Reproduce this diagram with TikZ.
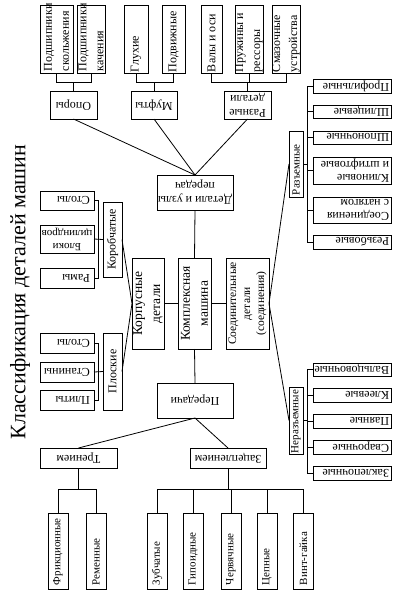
\documentclass[tikz,border=0pt]{standalone}
\usepackage{fontspec}
\setmainfont{Liberation Serif}
\usepackage{graphicx}
\newcommand{\TxtUp}[2]{\rotatebox{90}{\parbox{#1}{\raggedright #2}}}
\newcommand{\TxtUpC}[2]{\rotatebox{90}{\parbox{#1}{\centering #2}}}
\newcommand{\TxtDn}[2]{\rotatebox{180}{\parbox{#1}{\raggedright #2}}}
\newcommand{\TxtDnC}[2]{\rotatebox{180}{\parbox{#1}{\centering #2}}}
\begin{document}
\begin{tikzpicture}[x=1pt,y=-1pt,line width=0.8pt,
  box/.style 2 args={draw,line width=0.8pt,inner sep=0pt,outer sep=0pt,minimum width=#1pt,minimum height=#2pt},
  leaf/.style={font=\fontsize{12}{17}\selectfont},
  bleaf/.style={font=\fontsize{11}{13}\selectfont},
  sleaf/.style={font=\fontsize{12}{13}\selectfont},
  vleaf/.style={font=\fontsize{11}{13}\selectfont},
  mid/.style={font=\fontsize{12}{14}\selectfont},
  big/.style={font=\fontsize{13.5}{18}\selectfont}]
\fill[white] (0,0) rectangle (401,595);
\useasboundingbox (0,0) rectangle (401,595);
% title
\node[rotate=90,inner sep=0pt,font=\fontsize{22}{26}\selectfont] (title) at (20,292) {Классификация деталей машин};
% top leaves
\node[box={33}{68},leaf] (A1) at (56.5,39) {\TxtUp{64pt}{Подшипники\\скольжения}};
\node[box={28}{68},leaf] (A2) at (91,39) {\TxtUp{64pt}{Подшипники\\качения}};
\node[box={24}{68},leaf] (B1) at (136,39) {\TxtUp{66pt}{Глухие}};
\node[box={23}{68},leaf] (B2) at (173.5,39) {\TxtUp{66pt}{Подвижные}};
\node[box={21}{68},leaf] (C1) at (211.5,39) {\TxtUp{66pt}{Валы и оси}};
\node[box={28}{68},leaf] (C2) at (249,39) {\TxtUp{66pt}{Пружины и\\рессоры}};
\node[box={28}{68},leaf] (C3) at (286,39) {\TxtUp{66pt}{Смазочные\\устройства}};
% second level top
\node[box={47}{28},mid] (Opory) at (73.5,105) {\TxtDnC{45pt}{Опоры}};
\node[box={46}{28},mid] (Mufty) at (154,105) {\TxtDnC{44pt}{Муфты}};
\node[box={47}{28},mid] (Raznye) at (247.5,105) {\TxtDnC{45pt}{Разные\\детали}};
\node[box={76}{35},mid] (Detali) at (195,192.5) {\TxtDnC{74pt}{Детали и узлы\\передач}};
% centre
\node[box={32}{91},big] (Korpus) at (148,303.5) {\TxtUpC{85pt}{Корпусные\\детали}};
\node[box={33}{91},big] (Kompl) at (194.5,303.5) {\TxtUpC{85pt}{Комплексная\\машина}};
\node[box={43}{91},font=\fontsize{11.5}{14}\selectfont] (Soedin) at (247.5,303.5) {\TxtUpC{85pt}{Соединительные\\детали\\(соединения)}};
\node[box={76}{35},mid] (Pered) at (195,400.5) {\TxtDnC{74pt}{Передачи}};
\node[box={77}{20},mid] (Tren) at (78.5,458) {\TxtDnC{75pt}{Трением}};
\node[box={76}{20},mid] (Zacep) at (228,458) {\TxtDnC{74pt}{Зацеплением}};
% bottom leaves
\node[box={20}{76},bleaf] (Frik) at (58,551) {\TxtUp{68pt}{Фрикционные}};
\node[box={20}{76},bleaf] (Remen) at (96,551) {\TxtUp{68pt}{Ременные}};
\node[box={20}{76},bleaf] (Zub) at (157,551) {\TxtUp{68pt}{Зубчатые}};
\node[box={20}{76},bleaf] (Gipo) at (193,551) {\TxtUp{68pt}{Гипоидные}};
\node[box={20}{76},bleaf] (Cherv) at (231,551) {\TxtUp{68pt}{Червячные}};
\node[box={20}{76},bleaf] (Cep) at (267,551) {\TxtUp{68pt}{Цепные}};
\node[box={20}{76},bleaf] (Vint) at (303.5,551) {\TxtUp{68pt}{Винт-гайка}};
% left side
\node[box={19}{75},sleaf] (Korob) at (112.5,239.5) {\TxtUpC{73pt}{Коробчатые}};
\node[box={19}{77},sleaf] (Plosk) at (112.5,371.5) {\TxtUpC{75pt}{Плоские}};
\node[box={54}{19},sleaf] (StolyA) at (67,200.5) {\TxtDn{46pt}{Столы}};
\node[box={54}{28},vleaf] (Bloki) at (67,239) {\TxtDnC{54pt}{Блоки\\цилиндров}};
\node[box={54}{20},sleaf] (Ramy) at (67,278) {\TxtDn{46pt}{Рамы}};
\node[box={54}{20},sleaf] (StolyB) at (67,343) {\TxtDn{46pt}{Столы}};
\node[box={54}{20},sleaf] (Stan) at (67,372) {\TxtDn{46pt}{Станины}};
\node[box={54}{20},sleaf] (Plity) at (67,400) {\TxtDn{46pt}{Плиты}};
% right side
\node[box={14}{66},vleaf] (Razem) at (296,164) {\TxtUp{62pt}{Разъемные}};
\node[box={14}{67},vleaf] (Nerazem) at (296,420.5) {\TxtUp{65pt}{Неразъемные}};
\node[box={78}{14},sleaf] (Prof) at (352,86) {\TxtDn{74pt}{Профильные}};
\node[box={78}{13},sleaf] (Shlic) at (352,111.5) {\TxtDn{74pt}{Шлицевые}};
\node[box={78}{13},sleaf] (Shpon) at (352,137.5) {\TxtDn{74pt}{Шпоночные}};
\node[box={78}{27},sleaf] (Klin) at (352,170.5) {\TxtDn{74pt}{Клиновые\\и штифтовые}};
\node[box={78}{26},sleaf] (Natyag) at (352,210) {\TxtDn{74pt}{Соединения\\с натягом}};
\node[box={78}{14},sleaf] (Rezb) at (352,242) {\TxtDn{74pt}{Резьбовые}};
\node[box={78}{13},sleaf] (Valc) at (352,369.5) {\TxtDn{74pt}{Вальцовочные}};
\node[box={78}{14},sleaf] (Kleev) at (352,395) {\TxtDn{74pt}{Клеевые}};
\node[box={78}{14},sleaf] (Payan) at (352,421) {\TxtDn{74pt}{Паяные}};
\node[box={78}{14},sleaf] (Svar) at (352,447) {\TxtDn{74pt}{Сварочные}};
\node[box={78}{14},sleaf] (Zakl) at (352,473) {\TxtDn{74pt}{Заклепочные}};
% connectors top
\draw (A1.south) -- ++(0,9) -| (A2.south);
\draw (Opory.north) -- ++(0,-9);
\draw (B1.south) -- ++(0,9) -| (B2.south);
\draw (Mufty.north) -- ++(0,-9);
\draw (C1.south) -- ++(0,9) -| (C3.south);
\draw (C2.south) -- ++(0,9);
\draw (Raznye.north) -- ++(0,-9);
\draw (Opory.south) -- (Detali.north);
\draw (Mufty.south) -- (Detali.north);
\draw (Raznye.south) -- (Detali.north);
\draw (Detali.south) -- (Kompl.north);
\draw (Korpus.east) -- (Kompl.west);
\draw (Kompl.east) -- (Soedin.west);
\draw (Kompl.south) -- (Pered.north);
\draw (Pered.south) -- (Tren.north);
\draw (Pered.south) -- (Zacep.north);
% bottom
\draw (Tren.south) -- ++(0,21);
\draw (Frik.north) -- ++(0,-24) -| (Remen.north);
\draw (Zacep.south) -- ++(0,21);
\draw (Zub.north) -- ++(0,-24) -| (Vint.north);
\draw (Gipo.north) -- ++(0,-24);
\draw (Cherv.north) -- ++(0,-24);
\draw (Cep.north) -- ++(0,-24);
% left
\draw (StolyA.east) -- ++(4,0) |- (Ramy.east);
\draw (Bloki.east) -- (Korob.west);
\draw (StolyB.east) -- ++(4,0) |- (Plity.east);
\draw (Stan.east) -- (Plosk.west);
\draw (Korob.east) -- (Korpus.west);
\draw (Plosk.east) -- (Korpus.west);
% right
\draw (Soedin.east) -- (Razem.west);
\draw (Soedin.east) -- (Nerazem.west);
\draw (Prof.west) -- ++(-6,0) |- (Rezb.west);
\draw (Shlic.west) -- ++(-6,0);
\draw (Shpon.west) -- ++(-6,0);
\draw (Klin.west) -- ++(-6,0);
\draw (Natyag.west) -- ++(-6,0);
\draw (Razem.east) -- ++(4,0);
\draw (Valc.west) -- ++(-6,0) |- (Zakl.west);
\draw (Kleev.west) -- ++(-6,0);
\draw (Payan.west) -- ++(-6,0);
\draw (Svar.west) -- ++(-6,0);
\draw (Nerazem.east) -- ++(4,0);
\end{tikzpicture}
\end{document}
